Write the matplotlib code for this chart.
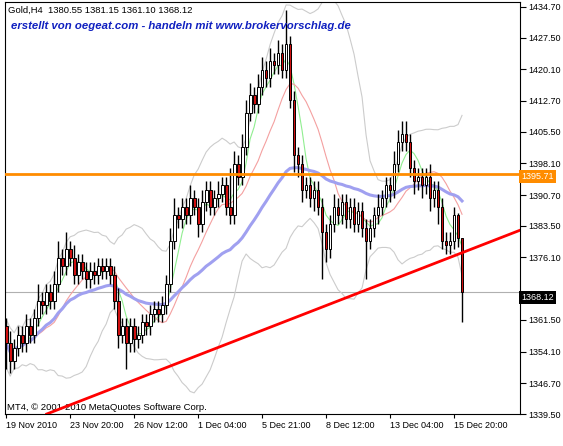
import matplotlib
matplotlib.use("Agg")
import matplotlib.pyplot as plt
import numpy as np
import pandas as pd

plt.rcParams['font.family'] = ['Liberation Sans', 'DejaVu Sans']

closes = [1356,1352,1355,1358,1356,1360,1358,1362,1366,1365,
          1368,1366,1370,1376,1374,1378,1376,1372,1375,1373,
          1371,1373,1372,1374,1373,1374,1372,1366,1358,1360,
          1356,1360,1357,1358,1361,1360,1363,1364,1363,1365,
          1370,1380,1386,1385,1388,1386,1390,1388,1384,1389,
          1392,1388,1390,1391,1393,1388,1386,1398,1395,1402,
          1410,1414,1412,1416,1420,1418,1422,1421,1424,1420,
          1426,1413,1400,1398,1392,1393,1390,1392,1388,1382,
          1378,1384,1388,1386,1389,1385,1388,1384,1387,1383,
          1380,1383,1386,1388,1390,1393,1392,1398,1403,1405,
          1403,1397,1394,1395,1393,1395,1390,1392,1388,1380,
          1379,1380,1386,1380.55,1368.12]
first_open = 1360
hi_ext = [2,3,2,2,2,3,2,2,4,2, 2,2,3,4,2,4,2,3,2,2,
          2,2,2,2,2,2,2,2,3,2, 2,2,2,2,2,2,2,2,2,2,
          2,3,4,2,2,2,3,2,2,3, 2,2,2,3,2,2,9,3,2,3,
          3,3,2,3,3,2,3,2,3,2, 8,2,2,2,2,2,2,2,2,2,
          2,2,3,2,2,2,2,2,2,2, 2,2,2,3,2,2,2,3,3,3,
          3,2,2,2,2,2,3,2,2,2, 2,2,2,0.6,0]
lo_ext = [6,3,2,2,2,2,2,2,2,2, 2,2,2,2,2,2,2,2,2,2,
          2,2,2,2,2,2,2,2,3,2, 6,2,3,2,2,2,2,2,2,2,
          2,2,2,2,2,2,2,2,3,2, 2,2,2,2,2,2,2,2,2,2,
          2,2,2,2,2,2,2,2,2,2, 2,2,4,3,3,2,2,3,2,11,
          3,2,2,2,2,2,2,2,2,2, 9,2,2,2,2,2,3,2,2,2,
          2,2,3,2,3,2,3,2,4,2, 2,2,2,2,7.02]
date_labels = ["19 Nov 2010","23 Nov 20:00","26 Nov 12:00","1 Dec 04:00",
               "5 Dec 21:00","8 Dec 12:00","13 Dec 04:00","15 Dec 20:00"]
price_ticks = [1434.70,1427.50,1420.10,1412.70,1405.50,1398.10,1390.70,
               1383.50,1376.10,1361.50,1354.10,1346.70,1339.50]
last_price = 1368.12
level_price = 1395.71
trend_pts = [(30.25, 1346.8), (114.25, 1377.3)]

n = len(closes)
opens = [first_open] + closes[:-1]
opens[-1] = 1380.55
highs = [max(o, c) + h for o, c, h in zip(opens, closes, hi_ext)]
lows = [min(o, c) - l for o, c, l in zip(opens, closes, lo_ext)]
x = np.arange(n)

s = pd.Series(closes)
ma_g = s.rolling(5, min_periods=1).mean()
ma_r = s.rolling(13, min_periods=1).mean()
ma_b = s.ewm(span=45).mean()
bm = s.rolling(20, min_periods=1).mean()
bs = s.rolling(20, min_periods=2).std().bfill()
bu, bl = bm + 2 * bs, bm - 2 * bs

YL = (1341.3, 1435.85)
fig = plt.figure(figsize=(5.63, 4.46), dpi=100)
ax = fig.add_axes([5/563, 1 - 414/446, 515/563, 412/446])
ax.set_xlim(-0.3, 128.5)
ax.set_ylim(*YL)

ax.plot(x, bu, color="#cccccc", lw=0.8)
ax.plot(x, bl, color="#cccccc", lw=0.8)
ax.plot(x, ma_g, color="#90ee90", lw=0.8)
ax.plot(x, ma_r, color="#f4a0a0", lw=0.8)
ax.plot(x, ma_b, color="#a0a0f0", lw=2.2)

ax.vlines(x, lows, highs, color="black", lw=1)
for i in range(n):
    o, c = opens[i], closes[i]
    col = "white" if c >= o else "#d01010"
    ax.bar(x[i], max(abs(c - o), 0.15), bottom=min(o, c), width=0.7,
           color=col, edgecolor="black", lw=0.7, zorder=3)

ax.axhline(level_price, color="#ff8c00", lw=2, zorder=4)
ax.axhline(last_price, color="#b0b0b0", lw=0.8, zorder=1)
(x0, y0), (x1, y1) = trend_pts
sl = (y1 - y0) / (x1 - x0)
xs = np.array([x0 + (1339.5 - y0) / sl, 128.5])
ax.plot(xs, y0 + sl * (xs - x0), color="#ff0000", lw=2, zorder=5)

ax.yaxis.tick_right()
ax.set_yticks(price_ticks)
ax.set_yticklabels([f"{p:.2f}" for p in price_ticks], fontsize=6.5)
ax.tick_params(axis="y", length=4, pad=2)
ax.set_xticks([16 * k for k in range(len(date_labels))])
ax.set_xticklabels(date_labels, fontsize=6.5, ha="left")
ax.tick_params(axis="x", length=3, pad=2)
for p, fc in [(level_price, "#ff8c00"), (last_price, "black")]:
    ax.text(1.003, (p - YL[0]) / (YL[1] - YL[0]), f"{p:.2f}",
            transform=ax.transAxes, fontsize=6.5, color="white", va="center", ha="left",
            bbox=dict(facecolor=fc, edgecolor="none", pad=1.5))

ax.text(0.006, 0.99, "Gold,H4  1380.55 1381.15 1361.10 1368.12", transform=ax.transAxes,
        fontsize=6.8, va="top", ha="left")
ax.text(0.012, 0.955, "erstellt von oegeat.com - handeln mit www.brokervorschlag.de",
        transform=ax.transAxes, fontsize=8.2, va="top", ha="left", color="#1020c0",
        style="italic", weight="bold")
ax.text(0.003, 0.005, "MT4, © 2001-2010 MetaQuotes Software Corp.", transform=ax.transAxes,
        fontsize=6.8, va="bottom", ha="left")
fig.savefig("out.png", dpi=100)
